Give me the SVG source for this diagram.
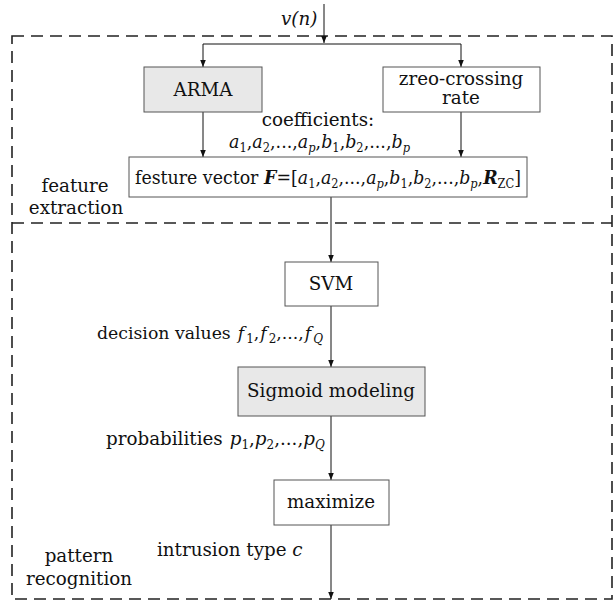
<svg xmlns="http://www.w3.org/2000/svg" width="615" height="603" viewBox="0 0 615 603">
<style>
.t{font-family:"DejaVu Serif","Liberation Serif",serif;font-size:18.3px;fill:#111}
.i{font-style:italic}
.s{font-size:12px}
.box{stroke:#555;stroke-width:1;fill:#fff}
.gray{fill:#e8e8e8}
.dash{fill:none;stroke:#222;stroke-width:1.6;stroke-dasharray:12 7}
.c{fill:none;stroke:#111;stroke-width:1}
</style>
<defs>
<marker id="arr" markerWidth="8" markerHeight="8" refX="7" refY="4" orient="auto" markerUnits="userSpaceOnUse">
<path d="M0,1.2 L7,4 L0,6.8 Z" fill="#111"/>
</marker>
</defs>
<rect width="615" height="603" fill="#fff"/>
<g id="frames">
<path class="dash" d="M12,36 H612 V599 H12 Z"/>
<path class="dash" d="M12,223 H612"/>
</g>
<g id="connectors">
<line class="c" x1="324" y1="4" x2="324" y2="43" marker-end="url(#arr)"/>
<path class="c" d="M203,44 H461"/>
<line class="c" x1="203" y1="44" x2="203" y2="67" marker-end="url(#arr)"/>
<line class="c" x1="461" y1="44" x2="461" y2="67" marker-end="url(#arr)"/>
<line class="c" x1="203" y1="112" x2="203" y2="157" marker-end="url(#arr)"/>
<line class="c" x1="461" y1="112" x2="461" y2="157" marker-end="url(#arr)"/>
<line class="c" x1="331" y1="197" x2="331" y2="262" marker-end="url(#arr)"/>
<line class="c" x1="331" y1="306" x2="331" y2="367" marker-end="url(#arr)"/>
<line class="c" x1="331" y1="416" x2="331" y2="480" marker-end="url(#arr)"/>
<line class="c" x1="331" y1="525" x2="331" y2="599" marker-end="url(#arr)"/>
</g>
<g id="labels">
<text class="t i" x="281" y="25">v(n)</text>
<text class="t" x="318" y="126" text-anchor="middle">coefficients:</text>
<text class="t" x="229" y="148" textLength="181" lengthAdjust="spacingAndGlyphs"><tspan class="i">a</tspan><tspan class="s" dy="4">1</tspan><tspan dy="-4">,</tspan><tspan class="i">a</tspan><tspan class="s" dy="4">2</tspan><tspan dy="-4">,...,</tspan><tspan class="i">a</tspan><tspan class="s i" dy="4">p</tspan><tspan dy="-4">,</tspan><tspan class="i">b</tspan><tspan class="s" dy="4">1</tspan><tspan dy="-4">,</tspan><tspan class="i">b</tspan><tspan class="s" dy="4">2</tspan><tspan dy="-4">,...,</tspan><tspan class="i">b</tspan><tspan class="s i" dy="4">p</tspan></text>
<text class="t" x="75" y="192" text-anchor="middle">feature</text>
<text class="t" x="76" y="214" text-anchor="middle">extraction</text>
<text class="t" x="97" y="339" style="font-size:17.3px">decision values<tspan class="i" dx="7">f</tspan><tspan class="s" dx="2" dy="4">1</tspan><tspan dy="-4">,</tspan><tspan class="i" dx="1">f</tspan><tspan class="s" dx="2" dy="4">2</tspan><tspan dy="-4">,...,</tspan><tspan class="i" dx="1">f</tspan><tspan class="s i" dx="2" dy="4">Q</tspan></text>
<text class="t" x="106" y="445">probabilities<tspan class="i" dx="7">p</tspan><tspan class="s" dy="4">1</tspan><tspan dy="-4">,</tspan><tspan class="i">p</tspan><tspan class="s" dy="4">2</tspan><tspan dy="-4">,...,</tspan><tspan class="i">p</tspan><tspan class="s i" dy="4">Q</tspan></text>
<text class="t" x="157" y="556">intrusion type <tspan class="i">c</tspan></text>
<text class="t" x="79" y="562" text-anchor="middle">pattern</text>
<text class="t" x="79" y="585" text-anchor="middle">recognition</text>
</g>
<g id="arma">
<rect class="box gray" x="144" y="67" width="118" height="45"/>
<text class="t" x="203" y="96" text-anchor="middle">ARMA</text>
</g>
<g id="zcr">
<rect class="box" x="383" y="67" width="157" height="45"/>
<text class="t" x="461" y="85" text-anchor="middle">zreo-crossing</text>
<text class="t" x="461" y="104" text-anchor="middle">rate</text>
</g>
<g id="feature">
<rect class="box" x="129" y="157" width="398" height="40"/>
<text class="t" x="135" y="184" textLength="386" lengthAdjust="spacingAndGlyphs">festure vector<tspan class="i" font-weight="bold" dx="6">F</tspan>=[<tspan class="i">a</tspan><tspan class="s" dy="4">1</tspan><tspan dy="-4">,</tspan><tspan class="i">a</tspan><tspan class="s" dy="4">2</tspan><tspan dy="-4">,...,</tspan><tspan class="i">a</tspan><tspan class="s i" dy="4">p</tspan><tspan dy="-4">,</tspan><tspan class="i">b</tspan><tspan class="s" dy="4">1</tspan><tspan dy="-4">,</tspan><tspan class="i">b</tspan><tspan class="s" dy="4">2</tspan><tspan dy="-4">,...,</tspan><tspan class="i">b</tspan><tspan class="s i" dy="4">p</tspan><tspan dy="-4">,</tspan><tspan class="i" font-weight="bold">R</tspan><tspan class="s" dy="4">ZC</tspan><tspan dy="-4">]</tspan></text>
</g>
<g id="svm">
<rect class="box" x="285" y="262" width="93" height="44"/>
<text class="t" x="331" y="290" text-anchor="middle">SVM</text>
</g>
<g id="sigmoid">
<rect class="box gray" x="238" y="367" width="187" height="49"/>
<text class="t" x="331" y="397" text-anchor="middle">Sigmoid modeling</text>
</g>
<g id="maximize">
<rect class="box" x="274" y="480" width="115" height="45"/>
<text class="t" x="331" y="508" text-anchor="middle">maximize</text>
</g>
</svg>
